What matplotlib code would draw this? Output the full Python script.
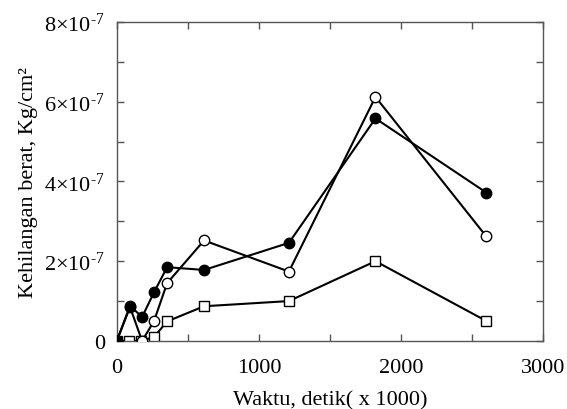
import matplotlib
matplotlib.use("Agg")
import matplotlib.pyplot as plt
from matplotlib.ticker import MultipleLocator, FixedLocator, FixedFormatter

plt.rcParams['font.family'] = ['Liberation Serif', 'DejaVu Serif']
plt.rcParams['mathtext.fontset'] = 'custom'
plt.rcParams['mathtext.rm'] = 'Liberation Serif'
plt.rcParams['mathtext.it'] = 'Liberation Serif:italic'

# time (x 1000 s)
x_filled = [0, 93, 178, 262, 354, 614, 1211, 1820, 2600]
y_filled = [0, 0.88, 0.60, 1.22, 1.85, 1.78, 2.46, 5.58, 3.72]   # x 1e-7

x_open = [0, 93, 178, 262, 354, 614, 1211, 1820, 2600]
y_open = [0, 0.85, 0.0, 0.50, 1.45, 2.52, 1.74, 6.12, 2.62]

x_square = [0, 88, 172, 262, 354, 614, 1211, 1820, 2600]
y_square = [0, 0.0, 0.0, 0.10, 0.49, 0.87, 1.00, 2.00, 0.50]

yticks = [0, 2, 4, 6, 8]
ytick_labels = ['0', r'$2{\times}10^{\text{-}7}$', r'$4{\times}10^{\text{-}7}$',
                r'$6{\times}10^{\text{-}7}$', r'$8{\times}10^{\text{-}7}$']
xticks = [0, 1000, 2000, 3000]

FS = 16

fig = plt.figure(figsize=(5.67, 4.10), dpi=100)
ax = fig.add_axes([0.206, 0.166, 0.752, 0.778])

ax.plot(x_square, y_square, '-', color='black', lw=1.5, marker='s', ms=6.5,
        mfc='white', mec='black', mew=1.0, zorder=2)
ax.plot(x_open, y_open, '-', color='black', lw=1.5, marker='o', ms=7.5,
        mfc='white', mec='black', mew=1.0, zorder=3)
ax.plot(x_filled, y_filled, '-', color='black', lw=1.5, marker='o', ms=7.5,
        mfc='black', mec='black', zorder=4)

ax.set_xlim(0, 3000)
ax.set_ylim(0, 8)
ax.xaxis.set_major_locator(FixedLocator(xticks))
ax.xaxis.set_minor_locator(MultipleLocator(500))
ax.yaxis.set_major_locator(FixedLocator(yticks))
ax.yaxis.set_major_formatter(FixedFormatter(ytick_labels))
ax.yaxis.set_minor_locator(MultipleLocator(1))

ax.tick_params(which='both', direction='in', top=True, right=True,
               length=5, width=1.0, color='#555555', labelsize=FS)
ax.tick_params(axis='x', which='both', pad=12)
ax.tick_params(axis='y', which='both', pad=8.5)
for s in ax.spines.values():
    s.set_color('#555555')
    s.set_linewidth(1.0)

ax.set_xlabel('Waktu, detik( x 1000)', fontsize=FS, labelpad=10)
ax.set_ylabel('Kehilangan berat, Kg/cm²', fontsize=FS, labelpad=5)

fig.savefig('out.png', dpi=100)
